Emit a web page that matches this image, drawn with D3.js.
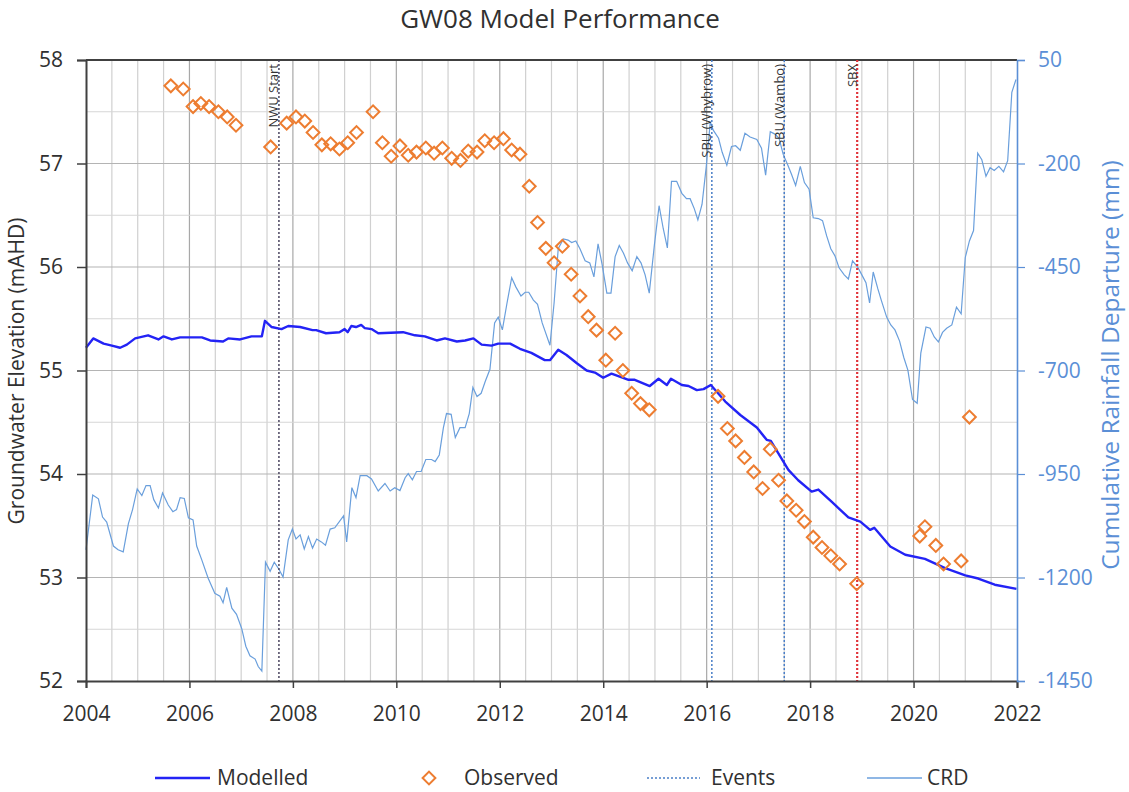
<!DOCTYPE html>
<html>
<head>
<meta charset="utf-8">
<script src="https://cdn.jsdelivr.net/npm/d3@7"></script>
<style>
  html, body { margin: 0; padding: 0; background: #fff; }
  svg { display: block; font-family: "Open Sans", "Noto Sans", sans-serif; }
</style>
</head>
<body>
<svg id="chart" width="1129" height="792"></svg>
<script>
// ---- Data -------------------------------------------------------------
const chartTitle = "GW08 Model Performance";
const xTicks = [2004, 2006, 2008, 2010, 2012, 2014, 2016, 2018, 2020, 2022];
const leftTicks = [52, 53, 54, 55, 56, 57, 58];
const rightTicks = [50, -200, -450, -700, -950, -1200, -1450];

// Observed groundwater elevation [decimal year, mAHD]
const observed = [
  [2005.64, 57.75], [2005.88, 57.72], [2006.07, 57.55], [2006.22, 57.58],
  [2006.38, 57.55], [2006.56, 57.50], [2006.73, 57.45], [2006.90, 57.37],
  [2007.57, 57.16], [2007.88, 57.39], [2008.06, 57.45], [2008.23, 57.41],
  [2008.39, 57.30], [2008.56, 57.18], [2008.73, 57.19], [2008.90, 57.14],
  [2009.06, 57.20], [2009.23, 57.30], [2009.55, 57.50], [2009.73, 57.20],
  [2009.90, 57.07], [2010.07, 57.17], [2010.23, 57.08], [2010.39, 57.11],
  [2010.57, 57.15], [2010.73, 57.10], [2010.89, 57.15], [2011.07, 57.05],
  [2011.24, 57.03], [2011.39, 57.12], [2011.56, 57.11], [2011.71, 57.22],
  [2011.89, 57.20], [2012.07, 57.24], [2012.23, 57.13], [2012.39, 57.09],
  [2012.57, 56.78], [2012.73, 56.43], [2012.89, 56.18], [2013.05, 56.04],
  [2013.21, 56.20], [2013.38, 55.93], [2013.55, 55.72], [2013.71, 55.52],
  [2013.87, 55.39], [2014.05, 55.10], [2014.23, 55.36], [2014.38, 55.00],
  [2014.55, 54.78], [2014.72, 54.68], [2014.89, 54.62],
  [2016.22, 54.75], [2016.40, 54.44], [2016.56, 54.32], [2016.73, 54.16],
  [2016.91, 54.02], [2017.08, 53.86], [2017.23, 54.24], [2017.39, 53.94],
  [2017.55, 53.74], [2017.73, 53.65], [2017.89, 53.54], [2018.06, 53.39],
  [2018.23, 53.29], [2018.40, 53.21], [2018.57, 53.13], [2018.90, 52.94],
  [2020.12, 53.40], [2020.22, 53.49], [2020.43, 53.31], [2020.58, 53.13],
  [2020.92, 53.16], [2021.08, 54.55]
];

// Modelled groundwater elevation [decimal year, mAHD]
const modelled = [
  [2004.00, 55.22], [2004.14, 55.31], [2004.34, 55.26], [2004.50, 55.24],
  [2004.66, 55.22], [2004.79, 55.25], [2004.95, 55.31], [2005.20, 55.34],
  [2005.40, 55.30], [2005.50, 55.33], [2005.66, 55.30], [2005.82, 55.32],
  [2006.07, 55.32], [2006.24, 55.32], [2006.40, 55.29], [2006.65, 55.28],
  [2006.75, 55.31], [2006.98, 55.30], [2007.20, 55.33], [2007.40, 55.33],
  [2007.46, 55.48], [2007.59, 55.42], [2007.78, 55.40], [2007.91, 55.43],
  [2008.14, 55.42], [2008.38, 55.39], [2008.45, 55.39], [2008.64, 55.36],
  [2008.90, 55.37], [2009.00, 55.40], [2009.06, 55.37], [2009.13, 55.43],
  [2009.22, 55.42], [2009.32, 55.44], [2009.39, 55.41], [2009.52, 55.40],
  [2009.65, 55.36], [2010.13, 55.37], [2010.36, 55.34], [2010.55, 55.33],
  [2010.78, 55.29], [2010.94, 55.31], [2011.17, 55.28], [2011.33, 55.29],
  [2011.49, 55.31], [2011.65, 55.25], [2011.84, 55.24], [2011.97, 55.26],
  [2012.20, 55.26], [2012.39, 55.21], [2012.61, 55.17], [2012.87, 55.10],
  [2012.97, 55.10], [2013.13, 55.20], [2013.29, 55.15], [2013.49, 55.07],
  [2013.68, 55.00], [2013.84, 54.98], [2014.00, 54.93], [2014.16, 54.97],
  [2014.49, 54.91], [2014.61, 54.91], [2014.90, 54.85], [2015.07, 54.92],
  [2015.23, 54.86], [2015.31, 54.92], [2015.52, 54.86], [2015.65, 54.85],
  [2015.81, 54.81], [2015.94, 54.82], [2016.08, 54.86], [2016.36, 54.70],
  [2016.65, 54.57], [2016.97, 54.45], [2017.16, 54.33], [2017.24, 54.32],
  [2017.58, 54.04], [2017.77, 53.94], [2018.03, 53.83], [2018.16, 53.85],
  [2018.42, 53.73], [2018.74, 53.58], [2018.97, 53.54], [2019.16, 53.46],
  [2019.24, 53.48], [2019.55, 53.30], [2019.84, 53.22], [2020.22, 53.18],
  [2020.61, 53.09], [2021.00, 53.02], [2021.25, 52.99], [2021.57, 52.93],
  [2021.99, 52.89]
];

// Cumulative rainfall departure [decimal year, mm]
const crd = [
  [2004.00, -1133], [2004.13, -1001], [2004.24, -1010], [2004.32, -1054],
  [2004.40, -1066], [2004.53, -1124], [2004.62, -1133], [2004.72, -1138],
  [2004.82, -1070], [2004.90, -1036], [2004.99, -986], [2005.08, -1002],
  [2005.16, -978], [2005.24, -978], [2005.31, -1012], [2005.40, -1032],
  [2005.48, -996], [2005.59, -1025], [2005.68, -1041], [2005.75, -1036],
  [2005.82, -1007], [2005.90, -1009], [2005.98, -1056], [2006.07, -1061],
  [2006.14, -1124], [2006.24, -1158], [2006.36, -1201], [2006.49, -1238],
  [2006.59, -1245], [2006.65, -1261], [2006.72, -1224], [2006.82, -1274],
  [2006.91, -1289], [2007.01, -1323], [2007.09, -1366], [2007.17, -1389],
  [2007.27, -1397], [2007.33, -1415], [2007.40, -1426], [2007.47, -1163],
  [2007.56, -1185], [2007.64, -1163], [2007.73, -1180], [2007.81, -1199],
  [2007.91, -1109], [2007.99, -1083], [2008.06, -1107], [2008.14, -1097],
  [2008.22, -1131], [2008.30, -1101], [2008.38, -1129], [2008.46, -1107],
  [2008.55, -1114], [2008.63, -1122], [2008.72, -1083], [2008.81, -1080],
  [2008.98, -1051], [2009.04, -1114], [2009.14, -983], [2009.22, -1007],
  [2009.30, -954], [2009.43, -954], [2009.52, -962], [2009.65, -991],
  [2009.78, -973], [2009.88, -991], [2009.97, -983], [2010.07, -990],
  [2010.17, -959], [2010.23, -949], [2010.31, -964], [2010.39, -944],
  [2010.48, -944], [2010.57, -915], [2010.68, -915], [2010.75, -920],
  [2010.83, -904], [2010.91, -838], [2010.97, -804], [2011.06, -806],
  [2011.14, -862], [2011.23, -838], [2011.33, -838], [2011.41, -804],
  [2011.48, -741], [2011.56, -763], [2011.64, -755], [2011.72, -726],
  [2011.81, -697], [2011.90, -585], [2011.97, -571], [2012.05, -602],
  [2012.14, -537], [2012.23, -476], [2012.31, -498], [2012.41, -520],
  [2012.49, -511], [2012.56, -511], [2012.65, -530], [2012.73, -540],
  [2012.82, -585], [2012.97, -639], [2013.05, -537], [2013.13, -406],
  [2013.23, -382], [2013.32, -385], [2013.39, -391], [2013.47, -387],
  [2013.55, -406], [2013.65, -435], [2013.74, -440], [2013.82, -474],
  [2013.90, -394], [2013.98, -445], [2014.07, -513], [2014.15, -513],
  [2014.23, -425], [2014.31, -398], [2014.39, -416], [2014.47, -440],
  [2014.56, -459], [2014.65, -425], [2014.73, -440], [2014.81, -469],
  [2014.89, -513], [2014.99, -396], [2015.08, -302], [2015.16, -357],
  [2015.24, -404], [2015.32, -243], [2015.42, -243], [2015.52, -272],
  [2015.61, -285], [2015.68, -285], [2015.76, -309], [2015.83, -336],
  [2015.91, -299], [2015.99, -210], [2016.07, -100], [2016.13, -120],
  [2016.23, -139], [2016.30, -173], [2016.39, -204], [2016.48, -159],
  [2016.56, -157], [2016.65, -168], [2016.74, -127], [2016.84, -136],
  [2016.97, -142], [2017.06, -163], [2017.14, -228], [2017.23, -123],
  [2017.32, -129], [2017.40, -139], [2017.48, -178], [2017.57, -204],
  [2017.64, -226], [2017.72, -253], [2017.81, -207], [2017.89, -246],
  [2017.98, -262], [2018.06, -331], [2018.16, -333], [2018.24, -338],
  [2018.32, -375], [2018.40, -406], [2018.48, -423], [2018.56, -452],
  [2018.66, -469], [2018.74, -479], [2018.82, -435], [2018.92, -450],
  [2019.00, -469], [2019.08, -488], [2019.15, -537], [2019.22, -462],
  [2019.31, -503], [2019.38, -532], [2019.48, -571], [2019.56, -590],
  [2019.64, -602], [2019.73, -629], [2019.81, -668], [2019.89, -699],
  [2019.98, -770], [2020.07, -779], [2020.14, -658], [2020.24, -595],
  [2020.32, -598], [2020.40, -619], [2020.48, -631], [2020.56, -608],
  [2020.64, -598], [2020.74, -590], [2020.83, -547], [2020.92, -563],
  [2021.00, -427], [2021.08, -387], [2021.16, -362], [2021.24, -175],
  [2021.32, -191], [2021.40, -231], [2021.48, -210], [2021.56, -217],
  [2021.65, -207], [2021.74, -220], [2021.82, -193], [2021.90, -28],
  [2021.98, 3]
];

// Event markers
const eventNames = ["NWU Start", "SBU (Whybrow)", "SBU (Wambo)", "SBX"];
const eventYears = [2007.73, 2016.10, 2017.50, 2018.91];
const eventColors = ["#4a4560", "#4a7fc8", "#4a7fc8", "#e0343a"];
const eventWidths = [1.5, 1.5, 1.5, 2.2];

// ---- Layout -----------------------------------------------------------
const svg = d3.select("#chart");
const plot = { left: 86, right: 1017, top: 60, bottom: 681 };

const x = d3.scaleLinear().domain([2004, 2022]).range([plot.left, plot.right]);
const yL = d3.scaleLinear().domain([52, 58]).range([plot.bottom, plot.top]);
const yR = d3.scaleLinear().domain([-1450, 50]).range([plot.bottom, plot.top]);

const colModel = "#2323f5";
const colObs = "#ed7d31";
const colCrd = "#6a9fdc";
const colRight = "#5b8fd6";
const colText = "#303030";

// ---- Gridlines --------------------------------------------------------
const grid = svg.append("g");
grid.selectAll("line.v")
  .data(d3.range(2004.5, 2022, 0.5))
  .join("line")
  .attr("x1", d => x(d)).attr("x2", d => x(d))
  .attr("y1", plot.top).attr("y2", plot.bottom)
  .attr("stroke", d => (d % 2 === 0 ? "#a8a8a8" : "#d0d0d0"))
  .attr("stroke-width", 1.2);
grid.selectAll("line.h")
  .data(d3.range(52.5, 58, 0.5))
  .join("line")
  .attr("x1", plot.left).attr("x2", plot.right)
  .attr("y1", d => yL(d)).attr("y2", d => yL(d))
  .attr("stroke", d => (d % 1 === 0 ? "#b4b4b4" : "#d6d6d6"))
  .attr("stroke-width", 1.2);

// top border
svg.append("line")
  .attr("x1", plot.left).attr("x2", plot.right)
  .attr("y1", plot.top).attr("y2", plot.top)
  .attr("stroke", "#404040").attr("stroke-width", 2);

// ---- Series -----------------------------------------------------------
const crdLine = d3.line().x(d => x(d[0])).y(d => yR(d[1]));
svg.append("path")
  .datum(crd)
  .attr("d", crdLine)
  .attr("fill", "none")
  .attr("stroke", colCrd)
  .attr("stroke-width", 1.2);

// event lines + labels
const ev = svg.append("g");
eventYears.forEach((yr, i) => {
  ev.append("line")
    .attr("x1", x(yr)).attr("x2", x(yr))
    .attr("y1", plot.top).attr("y2", plot.bottom)
    .attr("stroke", eventColors[i])
    .attr("stroke-width", eventWidths[i])
    .attr("stroke-dasharray", "2,2");
  ev.append("text")
    .attr("transform", `translate(${x(yr) - 0.5},${plot.top + 4}) rotate(-90)`)
    .attr("text-anchor", "end")
    .attr("font-size", 13)
    .attr("fill", "#333")
    .text(eventNames[i]);
});

const modelLine = d3.line().x(d => x(d[0])).y(d => yL(d[1]));
svg.append("path")
  .datum(modelled)
  .attr("d", modelLine)
  .attr("fill", "none")
  .attr("stroke", colModel)
  .attr("stroke-width", 2.4)
  .attr("stroke-linejoin", "round");

const diamond = d3.symbol().type(d3.symbolSquare).size(82);
svg.append("g").selectAll("path")
  .data(observed)
  .join("path")
  .attr("d", diamond)
  .attr("transform", d => `translate(${x(d[0])},${yL(d[1])}) rotate(45)`)
  .attr("fill", "none")
  .attr("stroke", colObs)
  .attr("stroke-width", 2);

// ---- Axes -------------------------------------------------------------
const xAxis = svg.append("g")
  .attr("transform", `translate(0,${plot.bottom})`)
  .call(d3.axisBottom(x).tickValues(xTicks).tickFormat(d3.format("d")).tickSize(7).tickPadding(18));
xAxis.select(".domain").attr("stroke", "#404040").attr("stroke-width", 2);
xAxis.selectAll(".tick line").attr("stroke", "#404040").attr("stroke-width", 1.5);
xAxis.selectAll("text").attr("font-size", 21).attr("fill", colText).attr("font-family", "Open Sans");

const yAxisL = svg.append("g")
  .attr("transform", `translate(${plot.left},0)`)
  .call(d3.axisLeft(yL).tickValues(leftTicks).tickFormat(d3.format("d")).tickSize(9).tickPadding(14));
yAxisL.select(".domain").attr("stroke", "#404040").attr("stroke-width", 2);
yAxisL.selectAll(".tick line").attr("stroke", "#404040").attr("stroke-width", 1.5);
yAxisL.selectAll("text").attr("font-size", 21).attr("fill", colText).attr("font-family", "Open Sans");

const yAxisR = svg.append("g")
  .attr("transform", `translate(${plot.right},0)`)
  .call(d3.axisRight(yR).tickValues(rightTicks).tickFormat(d3.format("d")).tickSize(8).tickPadding(13));
yAxisR.select(".domain").attr("stroke", colRight).attr("stroke-width", 1.6);
yAxisR.selectAll(".tick line").attr("stroke", colRight).attr("stroke-width", 1.2);
yAxisR.selectAll("text").attr("font-size", 21).attr("fill", colRight).attr("font-family", "Open Sans")
  .text(d => d3.format("d")(d).replace("\u2212", "-"));

// ---- Titles -----------------------------------------------------------
svg.append("text")
  .attr("x", 560).attr("y", 28)
  .attr("text-anchor", "middle")
  .attr("font-size", 26)
  .attr("fill", colText)
  .text(chartTitle);

svg.append("text")
  .attr("transform", "translate(24,371) rotate(-90)")
  .attr("text-anchor", "middle")
  .attr("font-size", 21)
  .attr("fill", colText)
  .text("Groundwater Elevation (mAHD)");

svg.append("text")
  .attr("transform", "translate(1119,365) rotate(-90)")
  .attr("text-anchor", "middle")
  .attr("font-size", 24.5)
  .attr("fill", colRight)
  .text("Cumulative Rainfall Departure (mm)");

// ---- Legend -----------------------------------------------------------
const legY = 778;
const leg = svg.append("g").attr("font-size", 21).attr("fill", colText);

leg.append("line").attr("x1", 155).attr("x2", 210).attr("y1", legY).attr("y2", legY)
  .attr("stroke", colModel).attr("stroke-width", 2.4);
leg.append("text").attr("x", 217).attr("y", legY).attr("dy", "0.35em").text("Modelled");

leg.append("path").attr("d", diamond)
  .attr("transform", `translate(429,${legY}) rotate(45)`)
  .attr("fill", "none").attr("stroke", colObs).attr("stroke-width", 2);
leg.append("text").attr("x", 464).attr("y", legY).attr("dy", "0.35em").text("Observed");

leg.append("line").attr("x1", 647).attr("x2", 700).attr("y1", legY).attr("y2", legY)
  .attr("stroke", "#4a7fc8").attr("stroke-width", 1.5).attr("stroke-dasharray", "2,2");
leg.append("text").attr("x", 711).attr("y", legY).attr("dy", "0.35em").text("Events");

leg.append("line").attr("x1", 867).attr("x2", 922).attr("y1", legY).attr("y2", legY)
  .attr("stroke", colCrd).attr("stroke-width", 1.5);
leg.append("text").attr("x", 927).attr("y", legY).attr("dy", "0.35em").text("CRD");
</script>
</body>
</html>
